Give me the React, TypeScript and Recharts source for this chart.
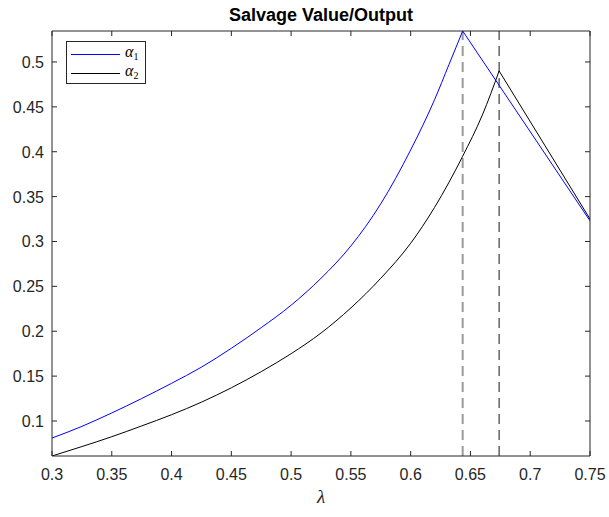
import { Line, LineChart, ReferenceLine, XAxis, YAxis } from "recharts";

// Sample points of the two salvage value curves (λ on the x axis)
const lambda1 = [0.3, 0.325, 0.35, 0.375, 0.4, 0.425, 0.45, 0.475, 0.5, 0.525, 0.55, 0.575, 0.6, 0.62, 0.632, 0.6435, 0.75];
const alpha1 = [0.081, 0.094, 0.109, 0.125, 0.142, 0.16, 0.181, 0.204, 0.229, 0.259, 0.295, 0.342, 0.402, 0.458, 0.497, 0.5345, 0.323];

const lambda2 = [0.3, 0.325, 0.35, 0.375, 0.4, 0.425, 0.45, 0.475, 0.5, 0.525, 0.55, 0.575, 0.6, 0.62, 0.6435, 0.66, 0.674, 0.75];
const alpha2 = [0.061, 0.0715, 0.0825, 0.0945, 0.107, 0.121, 0.137, 0.155, 0.175, 0.198, 0.226, 0.259, 0.298, 0.338, 0.395, 0.441, 0.49, 0.325];

// peak locations marked with dashed verticals
const peak1 = 0.6435;
const peak2 = 0.674;

const xTicks = [0.3, 0.35, 0.4, 0.45, 0.5, 0.55, 0.6, 0.65, 0.7, 0.75];
const yTicks = [0.1, 0.15, 0.2, 0.25, 0.3, 0.35, 0.4, 0.45, 0.5];

// split each curve at its peak: smooth rise, straight fall
const toRows = (xs: number[], ys: number[]) => xs.map((x, i) => ({ x, y: ys[i] }));
const rows1 = toRows(lambda1, alpha1);
const rows2 = toRows(lambda2, alpha2);
const rise1 = rows1.filter((r) => r.x <= peak1);
const fall1 = rows1.filter((r) => r.x >= peak1);
const rise2 = rows2.filter((r) => r.x <= peak2);
const fall2 = rows2.filter((r) => r.x >= peak2);

const blue = "#0000ff";
const black = "#000000";
const axisColor = "#262626";
const font = "'Liberation Sans', Arial, Helvetica, sans-serif";
const xDomain: [number, number] = [0.3, 0.75];
const yDomain: [number, number] = [0.061, 0.5345];
const TICK_LEN = 5;

type Side = "bottom" | "top" | "left" | "right";

// inward tick mark (+ optional label), anchored at the axis position recharts hands us
function makeTick(side: Side, label: boolean) {
  return (props: any) => {
    const { x, y, payload } = props;
    const dx = side === "left" ? TICK_LEN : side === "right" ? -TICK_LEN : 0;
    const dy = side === "bottom" ? -TICK_LEN : side === "top" ? TICK_LEN : 0;
    return (
      <g>
        <line x1={x} y1={y} x2={x + dx} y2={y + dy} stroke={axisColor} strokeWidth={1} />
        {label && side === "bottom" && (
          <text x={x} y={y + 24} textAnchor="middle" fill={axisColor} fontSize={16} fontFamily={font}>
            {payload.value}
          </text>
        )}
        {label && side === "left" && (
          <text x={x - 8} y={y + 6} textAnchor="end" fill={axisColor} fontSize={16} fontFamily={font}>
            {payload.value}
          </text>
        )}
      </g>
    );
  };
}

export default function App() {
  const lineProps = {
    xAxisId: "b",
    yAxisId: "l",
    dataKey: "y",
    strokeWidth: 1,
    dot: false,
    activeDot: false,
    isAnimationActive: false,
  } as const;

  const xAxisBase = { type: "number", dataKey: "x", domain: xDomain, ticks: xTicks, allowDataOverflow: true, interval: 0, height: 1, tickSize: 0, tickMargin: 0, tickLine: false, axisLine: { stroke: axisColor } } as const;
  const yAxisBase = { type: "number", domain: yDomain, ticks: yTicks, allowDataOverflow: true, interval: 0, width: 1, tickSize: 0, tickMargin: 0, tickLine: false, axisLine: { stroke: axisColor } } as const;

  return (
    <div
      style={{
        position: "absolute",
        left: 0,
        top: 0,
        width: 609,
        height: 517,
        background: "#fff",
        fontFamily: font,
      }}
    >
      <div
        style={{
          position: "absolute",
          left: 52,
          width: 538,
          top: 5,
          textAlign: "center",
          fontWeight: "bold",
          fontSize: 18,
          color: "#000",
        }}
      >
        Salvage Value/Output
      </div>

      <LineChart
        width={609}
        height={517}
        margin={{ top: 30, right: 18, bottom: 60, left: 51 }}
      >
        <XAxis xAxisId="b" orientation="bottom" {...xAxisBase} tick={makeTick("bottom", true)} />
        <XAxis xAxisId="t" orientation="top" {...xAxisBase} tick={makeTick("top", false)} />
        <YAxis yAxisId="l" orientation="left" {...yAxisBase} tick={makeTick("left", true)} />
        <YAxis yAxisId="r" orientation="right" {...yAxisBase} tick={makeTick("right", false)} />

        <ReferenceLine
          xAxisId="b"
          yAxisId="l"
          x={peak1}
          stroke="#9a9a9a"
          strokeWidth={2}
          strokeDasharray="10 6"
        />
        <ReferenceLine
          xAxisId="b"
          yAxisId="l"
          x={peak2}
          stroke="#4a4a4a"
          strokeWidth={1.3}
          strokeDasharray="10 6"
        />

        <Line {...lineProps} data={rise1} type="monotone" stroke={blue} />
        <Line {...lineProps} data={fall1} type="linear" stroke={blue} />
        <Line {...lineProps} data={rise2} type="monotone" stroke={black} />
        <Line {...lineProps} data={fall2} type="linear" stroke={black} />
      </LineChart>

      {/* legend box */}
      <div
        style={{
          position: "absolute",
          left: 66,
          top: 41,
          width: 78,
          height: 41,
          border: `1px solid ${axisColor}`,
          background: "#fff",
        }}
      >
        <LegendRow color={blue} top={4} sub="1" />
        <LegendRow color={black} top={23} sub="2" />
      </div>

      <div
        style={{
          position: "absolute",
          left: 0,
          width: 642,
          top: 486,
          textAlign: "center",
          fontFamily: "'Liberation Serif', 'DejaVu Serif', serif",
          fontStyle: "italic",
          fontSize: 19,
          color: axisColor,
        }}
      >
        λ
      </div>
    </div>
  );
}

function LegendRow({ color, top, sub }: { color: string; top: number; sub: string }) {
  return (
    <div style={{ position: "absolute", left: 4, top, height: 16, display: "flex", alignItems: "center" }}>
      <span style={{ display: "inline-block", width: 49, height: 1, background: color }} />
      <span
        style={{
          marginLeft: 5,
          fontFamily: "'Liberation Serif', 'DejaVu Serif', serif",
          fontStyle: "italic",
          fontSize: 16,
          color: "#000",
          lineHeight: "16px",
        }}
      >
        α
        <sub style={{ fontStyle: "normal", fontSize: 10, verticalAlign: "-3px" }}>{sub}</sub>
      </span>
    </div>
  );
}
